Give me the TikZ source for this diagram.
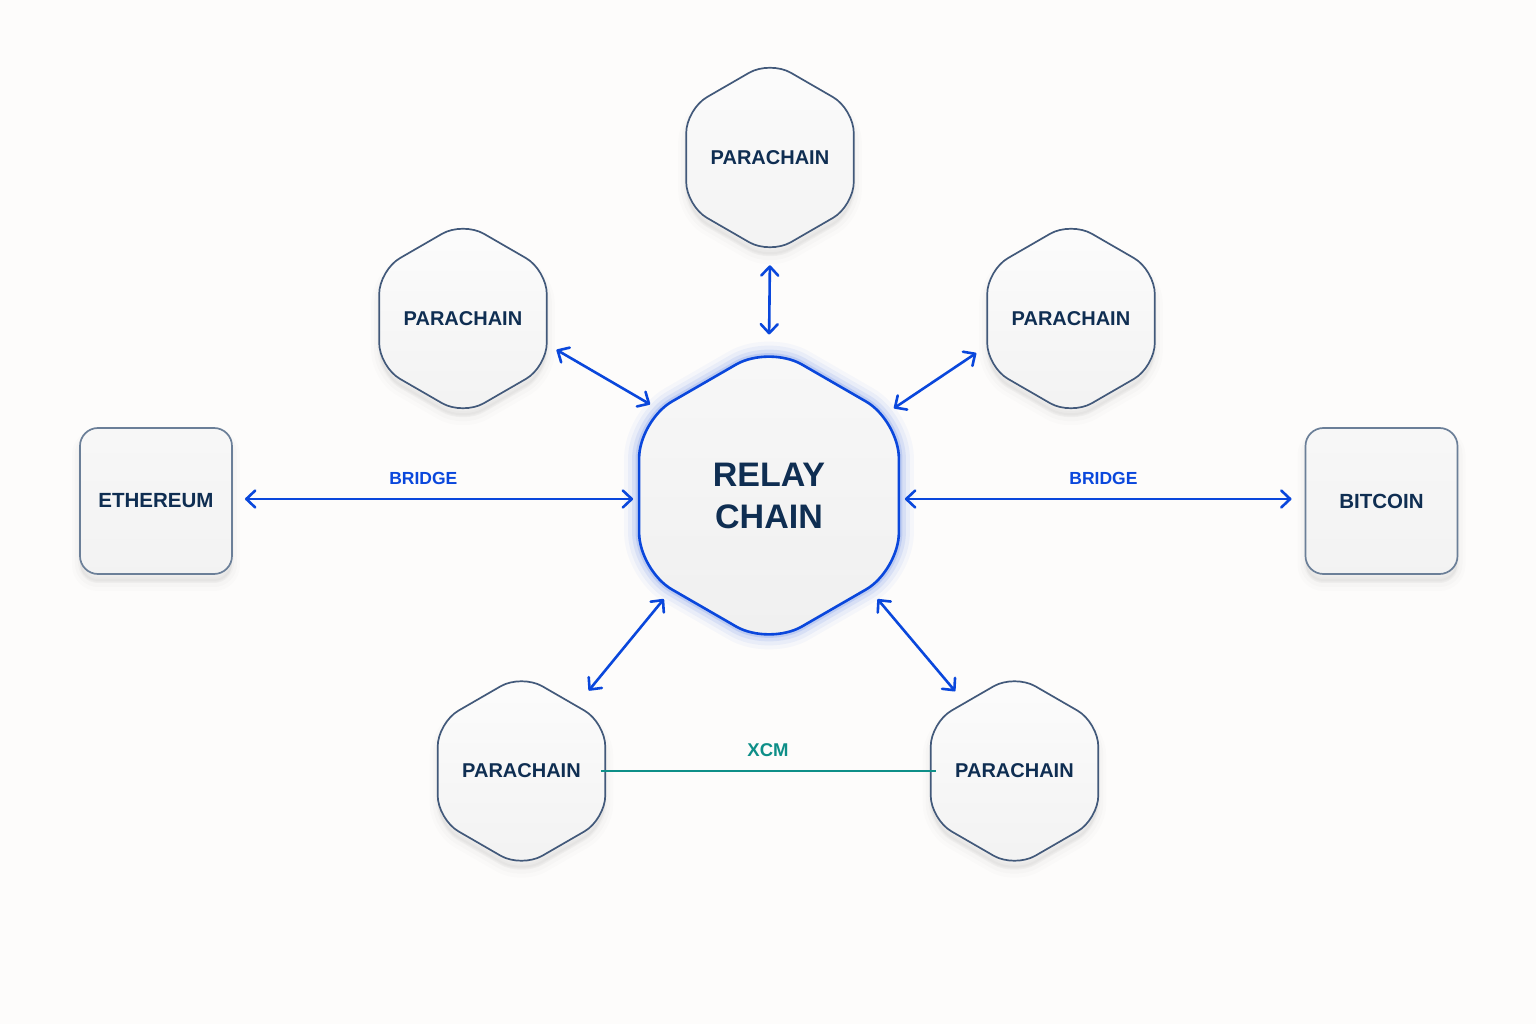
\documentclass[tikz,border=0pt]{standalone}
\usepackage{fontspec}
\setmainfont{Liberation Sans}
\usepackage{xcolor}
\usetikzlibrary{shapes.geometric, arrows.meta, positioning, shadows}
\definecolor{paper}{HTML}{FDFCFB}
\definecolor{ink}{HTML}{0F2E52}
\definecolor{hexline}{HTML}{42597A}
\definecolor{boxline}{HTML}{6B7F98}
\definecolor{bridgeblue}{HTML}{0A47DC}
\definecolor{xcmteal}{HTML}{0E8F88}

\begin{document}
\begin{tikzpicture}[node distance=100pt]
    % Styles
    \tikzstyle{soft} = [drop shadow={shadow xshift=0pt, shadow yshift=-9pt, fill=black, draw=black, line width=16pt, opacity=.012}, drop shadow={shadow xshift=0pt, shadow yshift=-8pt, fill=black, draw=black, line width=10pt, opacity=.016}, drop shadow={shadow xshift=0pt, shadow yshift=-7pt, fill=black, draw=black, line width=4pt, opacity=.02}]
    \tikzstyle{parachain} = [regular polygon, regular polygon sides=6, shape border rotate=30, minimum size=178pt, inner sep=0pt, outer sep=0pt, rounded corners=24pt, draw=hexline, line width=1.7pt, top color=white!94!black!20, bottom color=black!5, text=ink, font=\fontsize{20}{24}\selectfont\bfseries, soft]
    \tikzstyle{lowchain} = [parachain, minimum size=176pt]
    \tikzstyle{relaychain} = [regular polygon, regular polygon sides=6, shape border rotate=30, minimum size=300pt, inner sep=0pt, outer sep=0pt, rounded corners=38pt, draw=bridgeblue, line width=2.6pt, top color=black!3, bottom color=black!6, text=ink, align=center, font=\fontsize{34}{42}\selectfont\bfseries, preaction={draw=bridgeblue, line width=30pt, opacity=.03}, preaction={draw=bridgeblue, line width=22pt, opacity=.05}, preaction={draw=bridgeblue, line width=14pt, opacity=.08}, preaction={draw=bridgeblue, line width=7pt, opacity=.12}]
    \tikzstyle{outside} = [rectangle, minimum width=152pt, minimum height=146pt, inner sep=0pt, outer sep=0pt, rounded corners=18pt, draw=boxline, line width=1.7pt, top color=black!3, bottom color=black!5, text=ink, font=\fontsize{20.5}{24}\selectfont\bfseries, soft]
    \tikzstyle{arrow} = [line width=2.6pt, draw=bridgeblue, {Straight Barb[length=9pt,width=17pt,round]}-{Straight Barb[length=9pt,width=17pt,round]}]
    \tikzstyle{bridgetext} = [text=bridgeblue, font=\fontsize{17.5}{20}\selectfont\bfseries, yshift=21pt]
    \tikzstyle{xcmtext} = [text=xcmteal, font=\fontsize{18.5}{20}\selectfont\bfseries, yshift=21pt]

    % Background
    \fill [paper] (-769pt,495.5pt) rectangle (767pt,-528.5pt);
    \useasboundingbox (-769pt,495.5pt) rectangle (767pt,-528.5pt);

    % Nodes
    \node (relay) [relaychain] {RELAY\\CHAIN};
    \node (pcT) [parachain, above of=relay, yshift=238pt, xshift=1pt] {PARACHAIN};
    \node (pcUL) [parachain, above of=relay, yshift=77pt, xshift=-306pt] {PARACHAIN};
    \node (pcUR) [parachain, above of=relay, yshift=77pt, xshift=302pt] {PARACHAIN};
    \node (pcLL) [lowchain, below of=relay, yshift=-175.5pt, xshift=-247.5pt] {PARACHAIN};
    \node (pcLR) [lowchain, below of=relay, yshift=-175.5pt, xshift=245.5pt] {PARACHAIN};
    \node (eth) [outside, left of=relay, xshift=-513pt, yshift=-5.5pt] {ETHEREUM};
    \node (btc) [outside, right of=relay, xshift=512.5pt, yshift=-5.5pt] {BITCOIN};

    % Arrows
    \draw [arrow, shorten <=11pt, shorten >=11pt] (pcT.south) -- (relay.north);
    \draw [arrow, shorten <=11.3pt, shorten >=9.8pt] (pcUL.-17.6) -- (relay.142);
    \draw [arrow, shorten <=13.2pt, shorten >=9pt] (pcUR.198) -- (relay.35.4);
    \draw [arrow, shorten <=19.8pt, shorten >=12.6pt] (pcLL.50.5) -- (relay.224.4);
    \draw [arrow, shorten <=15.2pt, shorten >=14.4pt] (pcLR.126.8) -- (relay.-43.7);
    \draw [arrow, shorten <=13pt, shorten >=6pt] ([yshift=2pt]eth.east) -- node[bridgetext, pos=.47] (brL) {BRIDGE} ([yshift=-3.5pt]relay.west);
    \draw [arrow, shorten <=6pt, shorten >=14pt] ([yshift=-3.5pt]relay.east) -- node[bridgetext, pos=.503] (brR) {BRIDGE} ([yshift=2pt]btc.west);
    \draw [xcmteal, line width=2.6pt, shorten <=-4.5pt, shorten >=-5.5pt] (pcLL.east) -- node[xcmtext] (xcm) {XCM} (pcLR.west);
\end{tikzpicture}
\end{document}
